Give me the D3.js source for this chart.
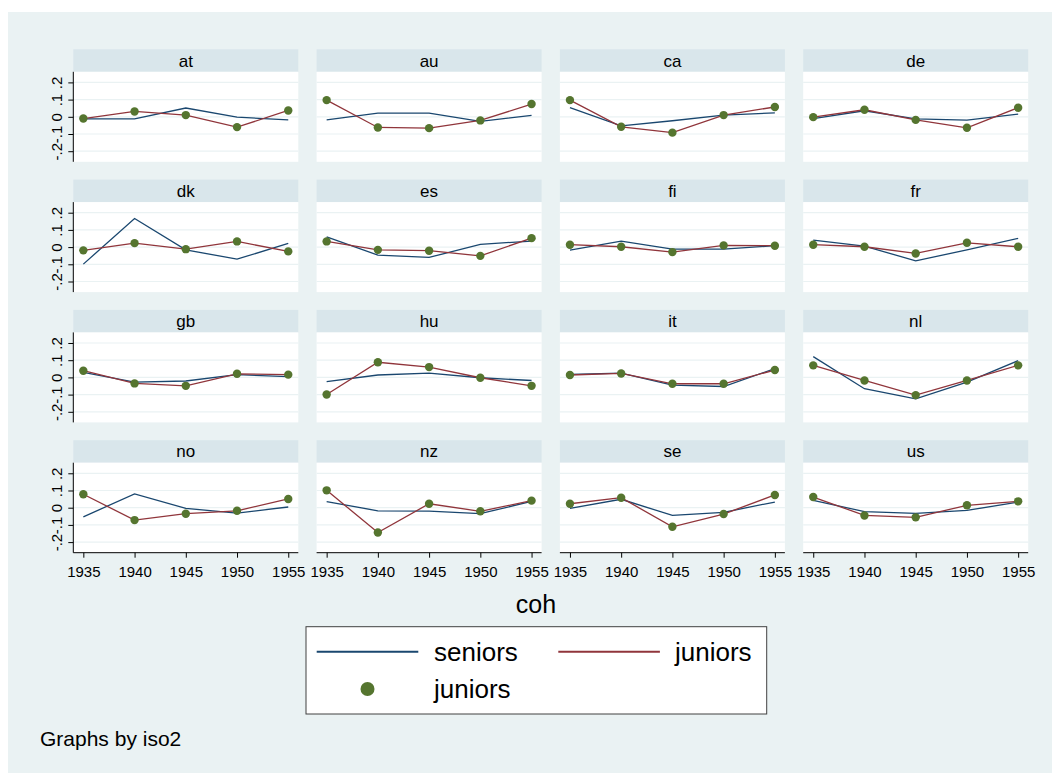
<!DOCTYPE html>
<html>
<head>
<meta charset="utf-8">
<script src="https://cdn.jsdelivr.net/npm/d3@7"></script>
<style>
  html, body { margin: 0; padding: 0; background: #ffffff; }
  svg { display: block; font-family: "Liberation Sans", Arial, sans-serif; }
</style>
</head>
<body>
<svg id="chart" width="1052" height="773"></svg>
<script>
// Country panels (iso2 codes) and birth cohorts
const iso2 = ["at", "au", "ca", "de", "dk", "es", "fi", "fr",
              "gb", "hu", "it", "nl", "no", "nz", "se", "us"];
const coh = [1935, 1940, 1945, 1950, 1955];

// Estimated effects by cohort, one row per country (same order as iso2)
const seniors = [
  [-0.012, -0.012,  0.051, -0.002, -0.018],  // at
  [-0.018,  0.021,  0.021, -0.027,  0.008],  // au
  [ 0.053, -0.053, -0.023,  0.010,  0.023],  // ca
  [-0.010,  0.035, -0.012, -0.019,  0.016],  // de
  [-0.099,  0.166, -0.016, -0.070,  0.021],  // dk
  [ 0.060, -0.047, -0.060,  0.016,  0.035],  // es
  [-0.018,  0.035, -0.012, -0.012,  0.008],  // fi
  [ 0.041,  0.006, -0.080, -0.016,  0.051],  // fr
  [ 0.029, -0.027, -0.021,  0.016,  0.004],  // gb
  [-0.025,  0.014,  0.025, -0.002, -0.018],  // hu
  [ 0.018,  0.025, -0.045, -0.053,  0.051],  // it
  [ 0.121, -0.066, -0.125, -0.027,  0.097],  // nl
  [-0.053,  0.080, -0.004, -0.031,  0.004],  // no
  [ 0.035, -0.018, -0.020, -0.035,  0.037],  // nz
  [-0.004,  0.049, -0.045, -0.027,  0.033],  // se
  [ 0.043, -0.023, -0.033, -0.016,  0.033]   // us
];
const juniors = [
  [-0.010,  0.031,  0.010, -0.060,  0.037],  // at
  [ 0.097, -0.062, -0.066, -0.021,  0.074],  // au
  [ 0.097, -0.058, -0.092,  0.010,  0.057],  // ca
  [-0.002,  0.041, -0.018, -0.064,  0.053],  // de
  [-0.019,  0.023, -0.012,  0.033, -0.025],  // dk
  [ 0.033, -0.016, -0.021, -0.051,  0.052],  // es
  [ 0.014,  0.002, -0.029,  0.010,  0.008],  // fi
  [ 0.014,  0.002, -0.037,  0.025,  0.002],  // fr
  [ 0.039, -0.035, -0.049,  0.021,  0.016],  // gb
  [-0.099,  0.088,  0.060, -0.002, -0.049],  // hu
  [ 0.014,  0.023, -0.037, -0.037,  0.043],  // it
  [ 0.070, -0.018, -0.103, -0.018,  0.070],  // nl
  [ 0.078, -0.072, -0.035, -0.018,  0.051],  // no
  [ 0.101, -0.144,  0.023, -0.021,  0.041],  // nz
  [ 0.023,  0.058, -0.111, -0.037,  0.074],  // se
  [ 0.062, -0.045, -0.056,  0.014,  0.037]   // us
];

// Axis ticks
const yTicks = [-0.2, -0.1, 0, 0.1, 0.2];
const yTickLabels = ["-.2", "-.1", "0", ".1", ".2"];
const xTicks = [1935, 1940, 1945, 1950, 1955];

// Colours (s2color-like scheme)
const C = {
  page: "#EAF2F3",
  strip: "#D9E6EB",
  grid: "#EAF2F3",
  seniors: "#1A476F",
  juniors: "#90353B",
  marker: "#55752F",
  axis: "#000000"
};

// Layout
const nCols = 4, nRows = 4;
const colX0 = 73.3, colStep = 243.3, panelW = 225;
const rowY0 = 49.3, rowStep = 130.3, stripH = 22.5, plotH = 90;

const svg = d3.select("#chart");

// graph region background
svg.append("rect")
  .attr("x", 8).attr("y", 12)
  .attr("width", 1052 - 8).attr("height", 773 - 12)
  .attr("fill", C.page);

const x = d3.scaleLinear().domain([1934.02, 1955.98]).range([0, panelW]);
const y = d3.scaleLinear().domain([-0.2616, 0.2616]).range([plotH, 0]);

const line = d3.line()
  .x((d, i) => x(coh[i]))
  .y(d => y(d));

iso2.forEach((code, k) => {
  const col = k % nCols, row = Math.floor(k / nCols);
  const px = colX0 + col * colStep;
  const py = rowY0 + row * rowStep;

  const g = svg.append("g").attr("transform", `translate(${px},${py})`);

  // strip with panel title
  g.append("rect")
    .attr("width", panelW).attr("height", stripH)
    .attr("fill", C.strip);
  g.append("text")
    .attr("x", panelW / 2).attr("y", stripH / 2 + 6)
    .attr("text-anchor", "middle")
    .attr("font-size", 17)
    .attr("fill", "#000")
    .text(code);

  const p = g.append("g").attr("transform", `translate(0,${stripH})`);

  // plot region
  p.append("rect")
    .attr("width", panelW).attr("height", plotH)
    .attr("fill", "#ffffff");

  // horizontal grid lines
  p.selectAll("line.grid")
    .data(yTicks)
    .join("line")
    .attr("class", "grid")
    .attr("x1", 0).attr("x2", panelW)
    .attr("y1", d => y(d)).attr("y2", d => y(d))
    .attr("stroke", C.grid)
    .attr("stroke-width", 1.2);

  // series lines
  p.append("path")
    .attr("d", line(seniors[k]))
    .attr("fill", "none")
    .attr("stroke", C.seniors)
    .attr("stroke-width", 1.3);
  p.append("path")
    .attr("d", line(juniors[k]))
    .attr("fill", "none")
    .attr("stroke", C.juniors)
    .attr("stroke-width", 1.3);

  // juniors markers
  p.selectAll("circle")
    .data(juniors[k])
    .join("circle")
    .attr("cx", (d, i) => x(coh[i]))
    .attr("cy", d => y(d))
    .attr("r", 4.2)
    .attr("fill", C.marker);

  // left axis on first column
  if (col === 0) {
    const ax = p.append("g")
      .call(d3.axisLeft(y).tickValues(yTicks).tickSize(5).tickSizeOuter(0)
        .tickFormat((d, i) => yTickLabels[i]));
    ax.select(".domain").attr("stroke", C.axis).attr("d", `M0,0V${plotH}`);
    ax.selectAll(".tick line").attr("stroke", C.axis);
    ax.selectAll(".tick text")
      .attr("font-size", 15)
      .attr("font-family", "Liberation Sans, Arial, sans-serif")
      .attr("fill", "#000")
      .attr("text-anchor", "middle")
      .attr("dy", 0)
      .attr("x", 0)
      .attr("transform", "translate(-11,0) rotate(-90)");
  }

  // bottom axis on last row
  if (row === nRows - 1) {
    const bx = p.append("g")
      .attr("transform", `translate(0,${plotH})`)
      .call(d3.axisBottom(x).tickValues(xTicks).tickSize(5).tickSizeOuter(0)
        .tickFormat(d3.format("d")));
    bx.select(".domain").attr("stroke", C.axis).attr("d", `M0,0H${panelW}`);
    bx.selectAll(".tick line").attr("stroke", C.axis);
    bx.selectAll(".tick text")
      .attr("font-size", 15)
      .attr("font-family", "Liberation Sans, Arial, sans-serif")
      .attr("fill", "#000")
      .attr("dy", 0)
      .attr("y", 24.7);
  }
});

// x axis title, centred on the whole graph area
svg.append("text")
  .attr("x", 536)
  .attr("y", 613)
  .attr("text-anchor", "middle")
  .attr("font-size", 25)
  .attr("fill", "#000")
  .text("coh");

// legend
const leg = svg.append("g").attr("transform", "translate(306,626.7)");
leg.append("rect")
  .attr("width", 460.7).attr("height", 87.3)
  .attr("fill", "#ffffff")
  .attr("stroke", "#404040")
  .attr("stroke-width", 1);

const legendItems = [
  { label: "seniors", kind: "line", color: C.seniors, kx: 10.7, tx: 128, ky: 25 },
  { label: "juniors", kind: "line", color: C.juniors, kx: 252.3, tx: 369, ky: 25 },
  { label: "juniors", kind: "dot", color: C.marker, kx: 10.7, tx: 128, ky: 62.3 }
];
legendItems.forEach(it => {
  if (it.kind === "line") {
    leg.append("line")
      .attr("x1", it.kx).attr("x2", it.kx + 101.6)
      .attr("y1", it.ky).attr("y2", it.ky)
      .attr("stroke", it.color)
      .attr("stroke-width", 2);
  } else {
    leg.append("circle")
      .attr("cx", it.kx + 50.8).attr("cy", it.ky)
      .attr("r", 7)
      .attr("fill", it.color);
  }
  leg.append("text")
    .attr("x", it.tx).attr("y", it.ky + 9.5)
    .attr("font-size", 26)
    .attr("fill", "#000")
    .text(it.label);
});

// note
svg.append("text")
  .attr("x", 40).attr("y", 746)
  .attr("font-size", 21)
  .attr("fill", "#000")
  .text("Graphs by iso2");
</script>
</body>
</html>
